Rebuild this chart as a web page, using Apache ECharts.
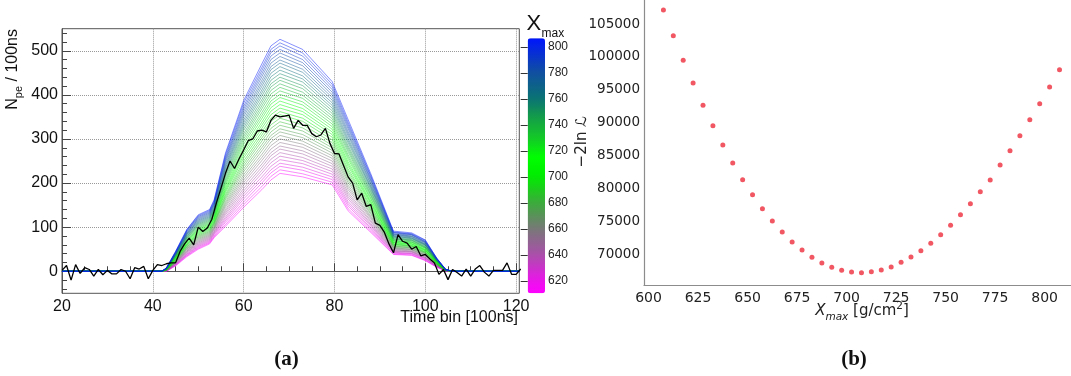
<!DOCTYPE html>
<html><head><meta charset="utf-8">
<script src="https://cdn.jsdelivr.net/npm/echarts@6/dist/echarts.min.js"></script>
<style>html,body{margin:0;padding:0;background:#fff}#c{width:1071px;height:376px}</style>
</head><body><div id="c"></div>
<script>
// ================= DATA =================
// (a) model curves: one curve per Xmax value, values at knot time bins
const lineXmax = [610,615,620,625,630,635,640,645,650,655,660,665,670,675,680,685,690,695,700,705,710,715,720,725,730,735,740,745,750,755,760,765,770,775,780,785,790,795,800,805];
const zeroBins = [20,42,106,121];            // bins where every curve is 0
const knotBins = [43,45,47.5,50,52.5,53.5,56,60,64,66,68,73,79.5,83,88,93,97,100,102.5,104.5];
const k43  = [0,0,0,1,1,1,1,1,2,2,2,2,2,3,3,3,3,3,4,4,4,4,4,5,5,5,5,5,6,6,6,6,6,7,7,7,7,7,8,8];
const k45  = [12,13,14,15,15,16,17,18,19,20,20,21,22,23,24,25,26,26,27,28,29,30,31,31,32,33,34,35,36,37,37,38,39,40,41,42,42,43,44,45];
const k47  = [33,35,36,38,39,41,43,44,46,47,49,51,52,54,55,57,59,60,62,63,65,67,68,70,71,73,75,76,78,79,81,83,84,86,87,89,91,92,94,95];
const k50  = [50,52,54,56,58,60,62,64,66,68,70,72,74,76,78,80,82,84,86,88,90,92,94,96,98,100,102,104,106,108,110,112,114,116,118,120,122,124,126,128];
const k52  = [62,64,66,68,70,72,74,76,78,80,82,84,86,88,90,92,94,96,98,100,102,104,106,108,110,112,114,116,118,120,122,124,126,128,130,132,134,136,138,140];
const k53  = [76,78,80,83,85,87,89,91,94,96,98,100,102,105,107,109,111,113,116,118,120,122,124,127,129,131,133,135,138,140,142,144,146,149,151,153,155,157,160,162];
const k56  = [102,106,111,115,119,123,128,132,136,140,145,149,153,157,162,166,170,174,179,183,187,191,196,200,204,208,213,217,221,225,230,234,238,242,247,251,255,259,264,268];
const k60  = [145,151,157,164,170,176,182,188,195,201,207,213,219,226,232,238,244,250,257,263,269,275,281,288,294,300,306,312,319,325,331,337,343,350,356,362,368,374,381,387];
const k64  = [185,192,200,207,214,222,229,236,243,251,258,265,273,280,287,295,302,309,316,324,331,338,346,353,360,368,375,382,389,397,404,411,419,426,433,441,448,455,462,470];
const k66  = [207,215,223,230,238,246,254,262,269,277,285,293,301,308,316,324,332,340,347,355,363,371,379,386,394,402,410,418,425,433,441,449,457,464,472,480,488,496,503,511];
const k68  = [222,230,238,245,253,261,269,277,284,292,300,308,316,323,331,339,347,355,362,370,378,386,394,401,409,417,425,433,440,448,456,464,472,479,487,495,503,511,518,526];
const k73  = [214,221,229,236,244,251,258,266,273,281,288,295,303,310,318,325,332,340,347,355,362,369,377,384,392,399,406,414,421,429,436,443,451,458,466,473,480,488,495,503];
const k79  = [196,202,208,214,220,226,232,238,244,250,256,262,268,274,280,286,292,298,304,310,316,322,328,334,340,346,352,358,364,370,376,382,388,394,400,406,412,418,424,430];
const k83  = [137,142,148,153,158,164,169,174,179,185,190,195,201,206,211,217,222,227,232,238,243,248,254,259,264,270,275,280,285,291,296,301,307,312,317,323,328,333,338,344];
const k88  = [88,91,95,98,102,105,108,112,115,119,122,125,129,132,136,139,142,146,149,153,156,159,163,166,170,173,176,180,183,187,190,193,197,200,204,207,210,214,217,221];
const k93  = [38,39,41,42,43,45,46,47,49,50,52,53,54,56,57,58,60,61,62,64,65,66,68,69,70,72,73,74,76,77,79,80,81,83,84,85,87,88,89,91];
const k97  = [36,37,39,40,41,43,44,45,46,48,49,50,52,53,54,56,57,58,59,61,62,63,65,66,67,69,70,71,72,74,75,76,78,79,80,82,83,84,85,87];
const k100 = [24,25,26,28,29,30,31,32,34,35,36,37,38,40,41,42,43,44,46,47,48,49,50,52,53,54,55,56,58,59,60,61,62,64,65,66,67,68,70,71];
const k102 = [9,10,10,11,11,12,12,13,13,14,15,15,16,16,17,17,18,18,19,19,20,21,21,22,22,23,23,24,24,25,26,26,27,27,28,28,29,29,30,30];
const k104 = [1,1,1,1,1,1,1,2,2,2,2,2,2,2,2,2,2,2,2,3,3,3,3,3,3,3,3,3,3,3,3,3,4,4,4,4,4,4,4,4];
const knotValues = [k43,k45,k47,k50,k52,k53,k56,k60,k64,k66,k68,k73,k79,k83,k88,k93,k97,k100,k102,k104];

// (a) measured trace
const dataBins = [20,21,22,23,24,25,26,27,28,29,30,31,32,33,34,35,36,37,38,39,40,41,42,43,44,45,46,47,48,49,50,51,52,53,54,55,56,57,58,59,60,61,62,63,64,65,66,67,68,69,70,71,72,73,74,75,76,77,78,79,80,81,82,83,84,85,86,87,88,89,90,91,92,93,94,95,96,97,98,99,100,101,102,103,104,105,106,107,108,109,110,111,112,113,114,115,116,117,118,119,120,121];
const dataCounts = [2,13,-20,15,-5,8,4,-11,4,-8,2,-6,-6,4,0,-17,8,5,11,-17,2,15,13,17,19,19,45,62,75,60,100,90,98,118,155,188,222,250,233,255,275,296,300,318,320,316,342,354,350,352,354,324,342,331,331,312,305,309,324,290,267,266,240,214,200,162,177,147,151,109,104,88,62,42,83,68,64,50,56,35,38,28,19,-7,4,-19,4,-3,-11,5,-11,5,13,-2,-11,2,2,2,19,-7,-7,5];

// (b) likelihood scan
const scanXmax = [607.5,612.5,617.5,622.5,627.5,632.5,637.5,642.5,647.5,652.5,657.5,662.5,667.5,672.5,677.5,682.5,687.5,692.5,697.5,702.5,707.5,712.5,717.5,722.5,727.5,732.5,737.5,742.5,747.5,752.5,757.5,762.5,767.5,772.5,777.5,782.5,787.5,792.5,797.5,802.5,807.5];
const scanLnL = [107126,103221,99482,96033,92644,89543,86610,83875,81337,79057,76930,75061,73389,71869,70653,69544,68678,68024,67568,67310,67204,67356,67614,68070,68784,69590,70547,71672,72979,74407,76018,77690,79513,81291,83571,85744,88024,90455,92887,95425,98054];

// tick labels
const timeTicks = [20,40,60,80,100,120];
const timeMinor = [25,30,35,45,50,55,65,70,75,85,90,95,105,110,115];
const npeTicks = [0,100,200,300,400,500];
const npeMinor = [-40,-20,20,40,60,80,120,140,160,180,220,240,260,280,320,340,360,380,420,440,460,480,520,540];
const barTicks = [620,640,660,680,700,720,740,760,780,800];
const scanXTicks = [600,625,650,675,700,725,750,775,800];
const scanYTicks = [70000,75000,80000,85000,90000,95000,100000,105000];

// ================= STYLE =================
const colorStops = [[610,[255,0,255]],[620,[235,20,235]],[640,[170,80,170]],[660,[120,120,120]],[680,[60,170,60]],[700,[0,235,0]],[715,[0,255,0]],[730,[20,200,40]],[745,[20,160,70]],[760,[10,115,115]],[780,[16,80,160]],[807,[0,20,255]]];
function colorAt(v){
  if (v <= colorStops[0][0]) return 'rgb(' + colorStops[0][1].join(',') + ')';
  for (let i = 1; i < colorStops.length; i++) {
    if (v <= colorStops[i][0]) {
      const a = colorStops[i-1], b = colorStops[i];
      const t = (v - a[0]) / (b[0] - a[0]);
      const c = a[1].map((x, k) => Math.round(x + (b[1][k] - x) * t));
      return 'rgb(' + c.join(',') + ')';
    }
  }
  return 'rgb(' + colorStops[colorStops.length-1][1].join(',') + ')';
}
const barMin = 610.5, barMax = 806.5;
const barColors = [];
for (let i = 0; i <= 30; i++) barColors.push(colorAt(barMin + (barMax - barMin) * i / 30));

const RootFont = 'Liberation Sans';
const MplFont = 'DejaVu Sans';
const plain = v => String(v);

const modelSeries = lineXmax.map((xm, j) => {
  const pts = [[zeroBins[0], 0], [zeroBins[1], 0]];
  knotBins.forEach((b, k) => pts.push([b, knotValues[k][j]]));
  pts.push([zeroBins[2], 0], [zeroBins[3], 0]);
  return {type: 'line', xAxisIndex: 0, yAxisIndex: 0, data: pts, symbol: 'none', showSymbol: false,
    lineStyle: {width: 0.6, color: colorAt(xm), opacity: 0.8}, silent: true, z: 2};
});

const series = modelSeries.concat([
  {type: 'line', xAxisIndex: 0, yAxisIndex: 0, data: dataBins.map((b, i) => [b, dataCounts[i]]),
   symbol: 'none', showSymbol: false, lineStyle: {width: 1.3, color: '#000'}, silent: true, z: 5},
  {type: 'scatter', xAxisIndex: 1, yAxisIndex: 1, data: [], silent: true},
  {type: 'scatter', xAxisIndex: 2, yAxisIndex: 2, data: [], silent: true},
  {type: 'scatter', xAxisIndex: 3, yAxisIndex: 3, data: scanXmax.map((x, i) => [x, scanLnL[i]]),
   symbolSize: 5, itemStyle: {color: '#f04e5a', opacity: 0.95}, silent: true}
]);
const barSeriesIndex = modelSeries.length + 2;

const option = {
  animation: false,
  backgroundColor: '#fff',
  grid: [
    {left: 62, top: 28.7, width: 457.3, height: 264.6, show: true, borderColor: '#555', borderWidth: 1},
    {left: 62, top: 28.7, width: 457.3, height: 264.6},
    {left: 527.7, top: 38.3, width: 17.3, height: 255},
    {left: 644, top: 0, width: 427, height: 285.3}
  ],
  xAxis: [
    {gridIndex: 0, type: 'value', min: 20, max: 120.7,
     axisLine: {show: true, lineStyle: {color: '#555', width: 1}},
     axisTick: {inside: true, length: 8, customValues: timeTicks, lineStyle: {color: '#444'}},
     axisLabel: {customValues: timeTicks, formatter: plain, fontSize: 16, fontFamily: RootFont, color: '#111', margin: 5},
     splitLine: {show: true, lineStyle: {type: 'dotted', color: '#999', width: 1}}},
    {gridIndex: 1, type: 'value', min: 20, max: 120.7,
     axisLine: {show: false},
     axisTick: {inside: true, length: 5, customValues: timeMinor, lineStyle: {color: '#444'}},
     axisLabel: {show: false}, splitLine: {show: false}},
    {gridIndex: 2, type: 'value', show: false, min: 0, max: 1},
    {gridIndex: 3, type: 'value', min: 597.7, max: 813.3,
     axisLine: {show: true, lineStyle: {color: '#8c8c8c', width: 1.2}},
     axisTick: {show: false},
     axisLabel: {customValues: scanXTicks, formatter: plain, fontSize: 14, fontFamily: MplFont, color: '#222', margin: 6},
     splitLine: {show: false}}
  ],
  yAxis: [
    {gridIndex: 0, type: 'value', min: -50, max: 550,
     axisLine: {show: true, lineStyle: {color: '#555', width: 1}},
     axisTick: {inside: true, length: 9, customValues: npeTicks, lineStyle: {color: '#444'}},
     axisLabel: {customValues: npeTicks, formatter: plain, fontSize: 16, fontFamily: RootFont, color: '#111', margin: 4},
     splitLine: {show: true, lineStyle: {type: 'dotted', color: '#999', width: 1}}},
    {gridIndex: 1, type: 'value', min: -50, max: 550,
     axisLine: {show: false},
     axisTick: {inside: true, length: 5, customValues: npeMinor, lineStyle: {color: '#444'}},
     axisLabel: {show: false}, splitLine: {show: false}},
    {gridIndex: 2, type: 'value', position: 'right', min: barMin, max: barMax, z: 10,
     axisLine: {show: false},
     axisTick: {inside: true, length: 7, customValues: barTicks, lineStyle: {color: '#333'}},
     axisLabel: {customValues: barTicks, formatter: plain, fontSize: 12, fontFamily: RootFont, color: '#222', margin: 3},
     splitLine: {show: false}},
    {gridIndex: 3, type: 'value', min: 65300, max: 108650,
     axisLine: {show: true, lineStyle: {color: '#8c8c8c', width: 1.2}},
     axisTick: {show: false},
     axisLabel: {customValues: scanYTicks, formatter: plain, fontSize: 13.5, fontFamily: MplFont, color: '#222', margin: 4},
     splitLine: {show: false}}
  ],
  visualMap: [{
    type: 'continuous', min: barMin, max: barMax, seriesIndex: barSeriesIndex,
    left: 527.7, top: 38.3, itemWidth: 17.3, itemHeight: 255, padding: 0,
    calculable: false, hoverLink: false, inRange: {color: barColors}
  }],
  graphic: [
    {type: 'text', x: 13, y: 29, rotation: Math.PI / 2, silent: true,
     style: {text: '{n|N}{s|pe}{n| / 100ns}', align: 'right', verticalAlign: 'middle',
       textAlign: 'right', textVerticalAlign: 'middle',
       rich: {n: {fontSize: 16, lineHeight: 22, fontFamily: RootFont, fill: '#111'},
              s: {fontSize: 11, lineHeight: 13, verticalAlign: 'bottom', fontFamily: RootFont, fill: '#111'}}}},
    {type: 'text', x: 518, y: 318, silent: true,
     style: {text: 'Time bin [100ns]', fontSize: 16, fontFamily: RootFont, fill: '#111',
       align: 'right', verticalAlign: 'middle', textAlign: 'right', textVerticalAlign: 'middle'}},
    {type: 'text', x: 526.5, y: 23.5, silent: true,
     style: {text: 'X', fontSize: 22, fontFamily: RootFont, fill: '#111', align: 'left', verticalAlign: 'middle', textAlign: 'left', textVerticalAlign: 'middle'}},
    {type: 'text', x: 541.5, y: 33.5, silent: true,
     style: {text: 'max', fontSize: 12, fontFamily: RootFont, fill: '#111', align: 'left', verticalAlign: 'middle', textAlign: 'left', textVerticalAlign: 'middle'}},
    {type: 'text', x: 286.5, y: 360, silent: true,
     style: {text: '(a)', fontSize: 21, fontWeight: 'bold', fontFamily: 'Liberation Serif', fill: '#111', align: 'center', verticalAlign: 'middle', textAlign: 'center', textVerticalAlign: 'middle'}},
    {type: 'text', x: 854, y: 360, silent: true,
     style: {text: '(b)', fontSize: 21, fontWeight: 'bold', fontFamily: 'Liberation Serif', fill: '#111', align: 'center', verticalAlign: 'middle', textAlign: 'center', textVerticalAlign: 'middle'}},
    {type: 'text', x: 581.7, y: 141.7, rotation: Math.PI / 2, silent: true,
     style: {text: '\u22122ln \u2112', fontSize: 15, fontFamily: MplFont, fill: '#222', align: 'center', verticalAlign: 'middle', textAlign: 'center', textVerticalAlign: 'middle'}},
    {type: 'text', x: 862, y: 311.5, silent: true,
     style: {text: '{i|X}{s|max}{n| [g/cm}{p|2}{n|]}', align: 'center', verticalAlign: 'middle', textAlign: 'center', textVerticalAlign: 'middle',
       rich: {i: {fontSize: 15, fontStyle: 'italic', lineHeight: 22, fontFamily: MplFont, fill: '#222'},
              s: {fontSize: 10.5, fontStyle: 'italic', lineHeight: 13, verticalAlign: 'bottom', fontFamily: MplFont, fill: '#222'},
              n: {fontSize: 15, lineHeight: 22, fontFamily: MplFont, fill: '#222'},
              p: {fontSize: 10.5, lineHeight: 12, verticalAlign: 'top', fontFamily: MplFont, fill: '#222'}}}}
  ],
  series: series
};

const chart = echarts.init(document.getElementById('c'), null, {renderer: 'canvas'});
chart.setOption(option);
</script>
</body></html>
